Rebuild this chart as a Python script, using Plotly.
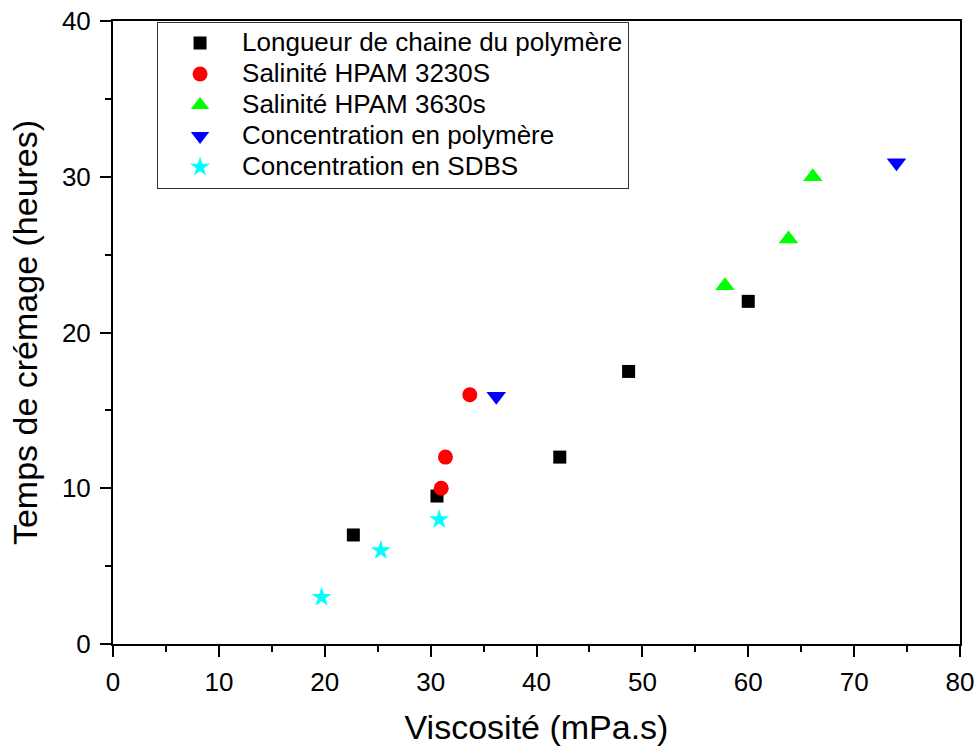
import plotly.graph_objects as go

# Data
longueur_x = [22.7, 30.6, 42.2, 48.7, 60.0]
longueur_y = [7.0, 9.5, 12.0, 17.5, 22.0]

sal3230_x = [31.0, 31.4, 33.7]
sal3230_y = [10.0, 12.0, 16.0]

sal3630_x = [57.8, 63.8, 66.1]
sal3630_y = [23.0, 26.0, 30.0]

conc_poly_x = [36.2, 74.0]
conc_poly_y = [15.9, 30.9]

conc_sdbs_x = [19.7, 25.3, 30.8]
conc_sdbs_y = [3.0, 6.0, 8.0]

series = [
    ("Longueur de chaine du polymère", longueur_x, longueur_y, "square", "#000000", 13),
    ("Salinité HPAM 3230S", sal3230_x, sal3230_y, "circle", "#ff0000", 15),
    ("Salinité HPAM 3630s", sal3630_x, sal3630_y, "triangle-up", "#00ff00", 17),
    ("Concentration en polymère", conc_poly_x, conc_poly_y, "triangle-down", "#0000ff", 17),
    ("Concentration en SDBS", conc_sdbs_x, conc_sdbs_y, "star", "#00ffff", 15),
]

FONT = "Liberation Sans, Arial"

fig = go.Figure()
for name, xs, ys, sym, col, sz in series:
    fig.add_trace(go.Scatter(
        x=xs, y=ys, mode="markers",
        name='<span style="font-size:26px">' + name + '</span>',
        marker=dict(symbol=sym, color=col, size=sz, line=dict(width=0)),
    ))

axis_common = dict(
    showgrid=False, zeroline=False, automargin=False,
    showline=True, linecolor="black", linewidth=2, mirror=True,
    ticks="outside", ticklen=11, tickwidth=2, tickcolor="black",
    tickfont=dict(family=FONT, size=26, color="black"),
    ticklabeloverflow="allow",
    minor=dict(ticks="outside", ticklen=6, tickwidth=2, tickcolor="black", dtick=5),
    dtick=10,
)

fig.update_xaxes(range=[0, 80], tick0=0, ticklabelstandoff=3,
                 title=dict(text="Viscosité (mPa.s)", font=dict(family=FONT, size=34, color="black"), standoff=19),
                 **axis_common)
fig.update_yaxes(range=[0, 40], tick0=0, ticklabelstandoff=4,
                 title=dict(text="Temps de crémage (heures)", font=dict(family=FONT, size=34, color="black"), standoff=14),
                 **axis_common)

fig.update_layout(
    width=977, height=749,
    margin=dict(l=113, r=17, t=21, b=105),
    plot_bgcolor="white", paper_bgcolor="white",
    font=dict(family=FONT, color="black"),
    legend=dict(
        x=0.052, y=0.999, xanchor="left", yanchor="top",
        bgcolor="white", bordercolor="#333333", borderwidth=1,
        font=dict(family=FONT, size=21.5, color="black"),
        itemwidth=74, tracegroupgap=0,
    ),
    showlegend=True,
)

# Remove the default 8px page margin so the figure sits at the window's corner.
fig.write_html("out.html",
               config={"displayModeBar": False},
               post_script="document.body.style.margin='0';document.body.style.overflow='hidden';")
